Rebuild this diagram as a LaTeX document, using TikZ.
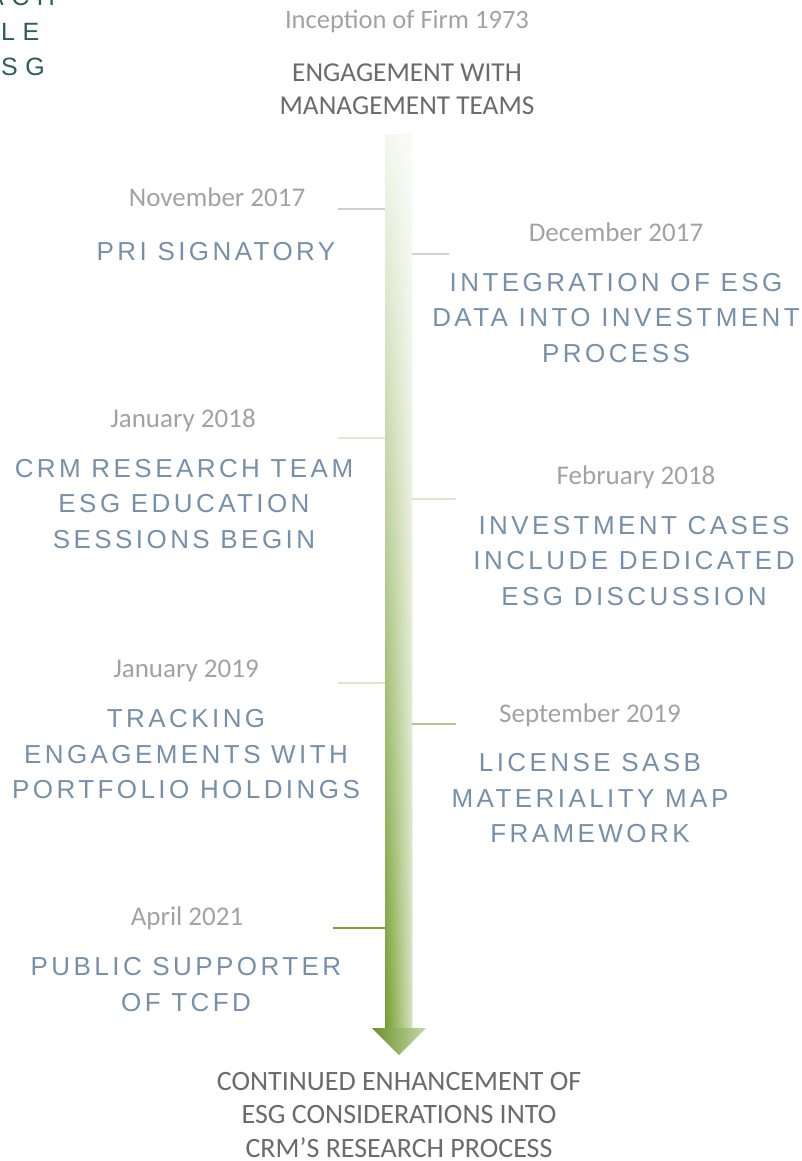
\documentclass[tikz,border=0pt]{standalone}
\usepackage{fontspec}
\setmainfont{Carlito}
\newfontfamily\headfont[LetterSpace=13.2]{Liberation Sans}
\newfontfamily\cornerfont[LetterSpace=30]{Liberation Sans}
\usetikzlibrary{fadings}

\definecolor{datecol}{HTML}{A2A2A2}
\definecolor{headcol}{HTML}{7690AB}
\definecolor{titlecol}{HTML}{6B6B6B}
\definecolor{cornercol}{HTML}{2B5E55}
\definecolor{arrowgreen}{HTML}{739E2C}

\begin{document}
\begin{tikzpicture}[x=1pt,y=-1pt,
    date/.style={font=\fontsize{27}{30}\selectfont, text=datecol, anchor=base, inner sep=0pt},
    milestone/.style={font=\headfont\fontsize{26}{35.3}\selectfont, text=headcol, align=center, anchor=base, inner sep=0pt},
    title/.style={font=\fontsize{28}{33.5}\selectfont, text=titlecol, align=center, anchor=base, inner sep=0pt},
    tick/.style={line width=2.5pt}]
  \useasboundingbox (0,0) rectangle (802,1161);

  % cut-off heading in the corner
  \begin{scope}
    \clip (0,0) rectangle (802,1161);
    \node[font=\cornerfont\fontsize{25}{30}\selectfont, text=cornercol, anchor=base west, inner sep=0pt] (c1) at (-13,6) {ACH};
    \node[font=\cornerfont\fontsize{25}{30}\selectfont, text=cornercol, anchor=base west, inner sep=0pt] (c2) at (1,41) {LE};
    \node[font=\cornerfont\fontsize{25}{30}\selectfont, text=cornercol, anchor=base west, inner sep=0pt] (c3) at (1,76) {SG};
  \end{scope}

  % the arrow
  \coordinate (shaftL) at (385,135);
  \coordinate (shaftR) at (412,135);
  \coordinate (tip) at (399,1055);
  \shade[top color=arrowgreen!8!white, bottom color=arrowgreen] (385,135) rectangle (412,1029);
  \fill[white, path fading=west, fill opacity=0.7] (385,135) rectangle (412,1029);
  \shade[left color=arrowgreen!92!black, right color=arrowgreen!40!white]
    (372,1028) -- (426,1028) -- (tip) -- cycle;

  % top and bottom (base = last line)
  \node[title, font=\fontsize{26.5}{30}\selectfont, text=datecol] (start) at (407,29) {Inception of Firm 1973};
  \node[title, font=\fontsize{27.3}{33.5}\selectfont] (engage) at (407,115) {ENGAGEMENT WITH\\MANAGEMENT TEAMS};
  \node[title, text depth=0pt] (future) at (399,1157) {CONTINUED ENHANCEMENT OF\\ESG CONSIDERATIONS INTO\\CRM’S RESEARCH PROCESS};

  % left side
  \node[date] (nov17) at (217,207) {November 2017};
  \node[milestone] (pri) at (216,260) {PRI SIGNATORY};
  \node[date] (jan18) at (183,427) {January 2018};
  \node[milestone] (edu) at (184,548) {CRM RESEARCH TEAM\\ESG EDUCATION\\SESSIONS BEGIN};
  \node[date] (jan19) at (186,677) {January 2019};
  \node[milestone] (track) at (186,798.5) {TRACKING\\ENGAGEMENTS WITH\\PORTFOLIO HOLDINGS};
  \node[date] (apr21) at (187,925) {April 2021};
  \node[milestone] (tcfd) at (186,1011) {PUBLIC SUPPORTER\\OF TCFD};

  % right side
  \node[date] (dec17) at (616,241) {December 2017};
  \node[milestone] (integ) at (616,362) {INTEGRATION OF ESG\\DATA INTO INVESTMENT\\PROCESS};
  \node[date] (feb18) at (636,484) {February 2018};
  \node[milestone] (cases) at (634,605) {INVESTMENT CASES\\INCLUDE DEDICATED\\ESG DISCUSSION};
  \node[date] (sep19) at (590,722) {September 2019};
  \node[milestone] (sasb) at (590,842.5) {LICENSE SASB\\MATERIALITY MAP\\FRAMEWORK};

  % ticks
  \coordinate (tnov17) at (338,209);
  \coordinate (tjan18) at (338,438);
  \coordinate (tjan19) at (338,683);
  \coordinate (tapr21) at (333,928);
  \coordinate (tdec17) at (449,254);
  \coordinate (tfeb18) at (456,499);
  \coordinate (tsep19) at (456,724);
  \draw[tick, color={rgb,255:red,207;green,207;blue,207}] (tnov17) -- (tnov17 -| shaftL);
  \draw[tick, color={rgb,255:red,226;green,233;blue,210}] (tjan18) -- (tjan18 -| shaftL);
  \draw[tick, color={rgb,255:red,221;green,229;blue,201}] (tjan19) -- (tjan19 -| shaftL);
  \draw[tick, color={rgb,255:red,124;green,157;blue,61}] (tapr21) -- (tapr21 -| shaftL);
  \draw[tick, color={rgb,255:red,210;green,210;blue,210}] (tdec17) -- (tdec17 -| shaftR);
  \draw[tick, color={rgb,255:red,220;green,229;blue,200}] (tfeb18) -- (tfeb18 -| shaftR);
  \draw[tick, color={rgb,255:red,181;green,199;blue,140}] (tsep19) -- (tsep19 -| shaftR);
\end{tikzpicture}
\end{document}
